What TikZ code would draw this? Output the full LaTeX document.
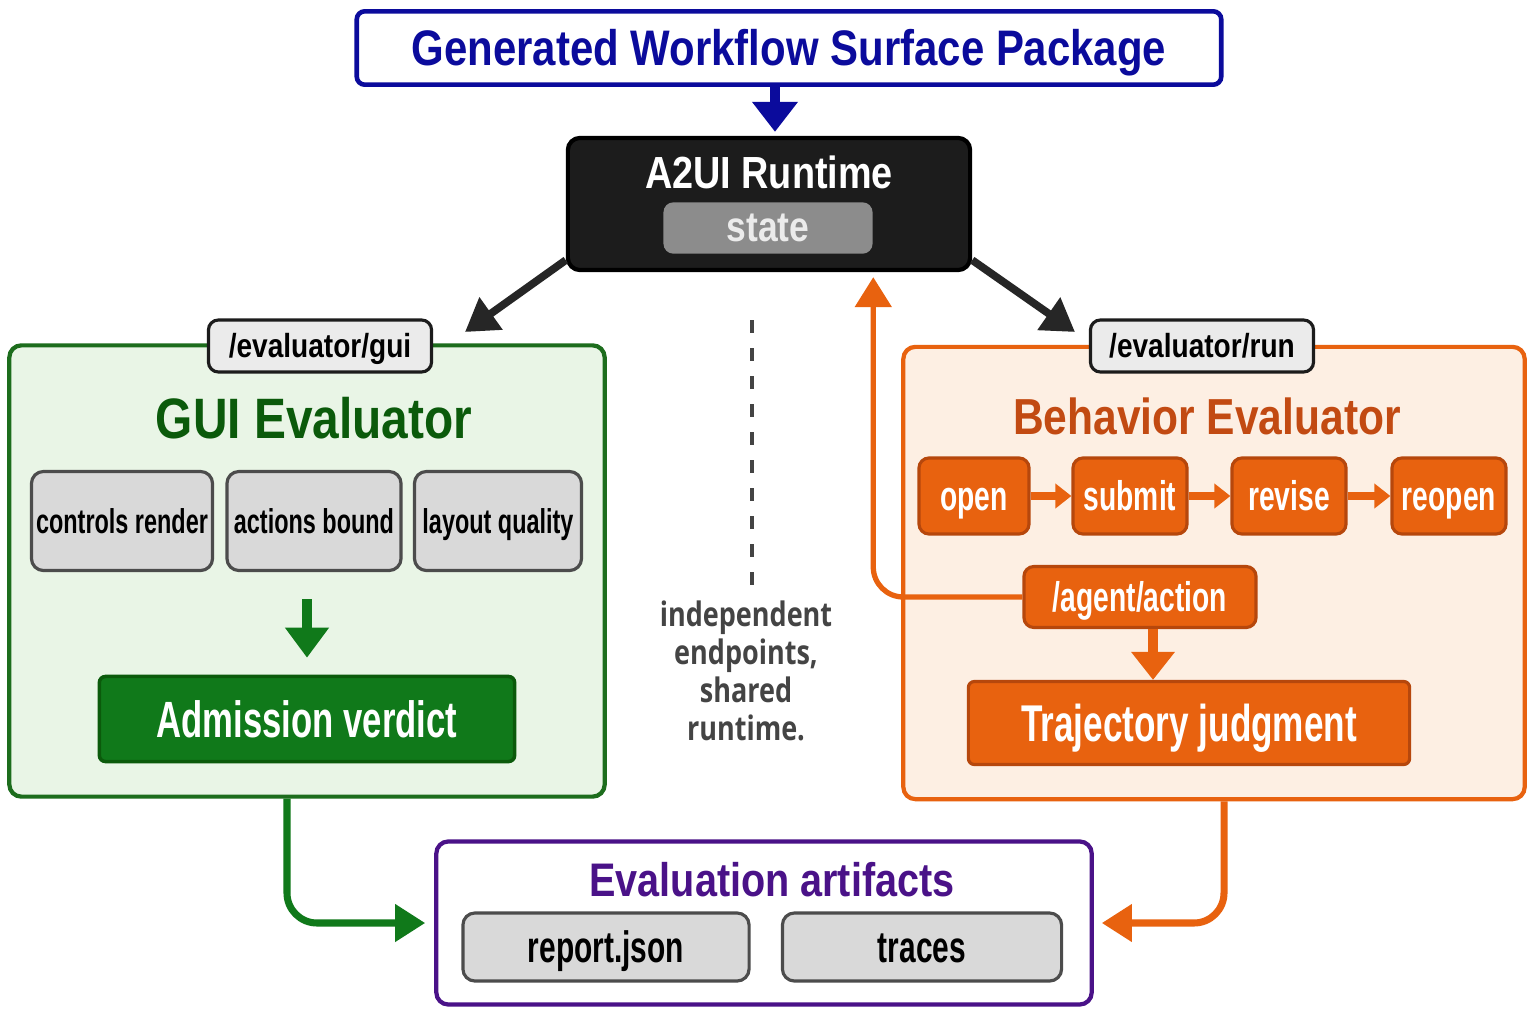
\documentclass[tikz,border=0pt]{standalone}
\usepackage{fontspec}
\setmainfont[FakeStretch=0.84]{Liberation Sans}
\newfontfamily\narrowfont[FakeStretch=0.68]{Liberation Sans}
\newfontfamily\notefont[FakeStretch=0.8]{Open Sans}
\usepackage{xcolor}
\usepackage{tikz}
\usetikzlibrary{arrows.meta}
\definecolor{WFBlue}{HTML}{0B0B9C}
\definecolor{WFBlack}{HTML}{1C1C1C}
\definecolor{WFState}{HTML}{8C8C8C}
\definecolor{WFGreen}{HTML}{1D6D1D}
\definecolor{WFGreenDark}{HTML}{0B5A0B}
\definecolor{WFGreenFill}{HTML}{E9F5E6}
\definecolor{WFVerdict}{HTML}{10791A}
\definecolor{WFOrange}{HTML}{E8620F}
\definecolor{WFOrangeDark}{HTML}{B6470C}
\definecolor{WFOrangeFill}{HTML}{FDEFE3}
\definecolor{WFOrangeTitle}{HTML}{C24A12}
\definecolor{WFPurple}{HTML}{4A1288}
\definecolor{WFChip}{HTML}{D9D9D9}
\definecolor{WFTab}{HTML}{EBEBEB}
\definecolor{WFNote}{HTML}{444444}

\begin{document}
\begin{tikzpicture}[x=0.01cm,y=-0.01cm,
  capbox/.style={text height=#1,text depth=2pt},
  panel/.style={draw,rounded corners=0.12cm,line width=1.2pt},
  tabbox/.style={draw=WFBlack,fill=WFTab,rounded corners=0.1cm,line width=0.9pt,inner sep=1pt,minimum width=2.23cm,minimum height=0.52cm,capbox=8.8pt,font=\bfseries\fontsize{9.5}{11}\selectfont},
  chip/.style={draw=black!70,fill=WFChip,rounded corners=0.12cm,line width=0.9pt,inner sep=1pt,minimum height=0.99cm,capbox=9pt,font=\narrowfont\bfseries\fontsize{9.8}{12}\selectfont},
  stepbox/.style={draw=WFOrangeDark,fill=WFOrange,text=white,rounded corners=0.1cm,line width=0.9pt,inner sep=1pt,minimum width=1.12cm,minimum height=0.76cm,capbox=10.5pt,font=\narrowfont\bfseries\fontsize{11.8}{14}\selectfont},
  fat/.style={line width=3pt,-{Triangle[width=0.44cm,length=0.3cm]}},
  link/.style={line width=1.5pt,rounded corners=0.3cm,-{Triangle[width=0.36cm,length=0.3cm]}},
  small/.style={WFOrange,line width=2.2pt,-{Triangle[width=0.24cm,length=0.16cm]}}]
\path[use as bounding box] (0,0) rectangle (1536,1024);
\fill[white] (0,0) rectangle (1536,1024);
\node[draw=WFBlue,fill=white,rounded corners=0.08cm,line width=1.3pt,minimum width=8.64cm,minimum height=0.73cm,capbox=12.2pt,text=WFBlue,font=\bfseries\fontsize{14.2}{16}\selectfont] (pkg) at (789,48) {Generated Workflow Surface Package};
\node[draw=black,fill=WFBlack,rounded corners=0.12cm,line width=1.2pt,minimum width=4.02cm,minimum height=1.32cm] (rt) at (769,204) {};
\node[text=white,font=\bfseries\fontsize{12.8}{15}\selectfont] (rttitle) at (769,172) {A2UI Runtime};
\node[fill=WFState,rounded corners=0.1cm,minimum width=2.09cm,minimum height=0.51cm,text=white!92!black,font=\bfseries\fontsize{12}{14}\selectfont] (state) at (768,228) {state};
\draw[WFBlue,fat,shorten >=0.04cm] ([xshift=-0.14cm]pkg.south) -- ([xshift=-0.14cm]pkg.south |- rt.north);
\node[panel,draw=WFGreen,fill=WFGreenFill,minimum width=5.95cm,minimum height=4.51cm] (gui) at (307,571) {};
\node[tabbox] (guitab) at (320,346) {/evaluator/gui};
\node[text=WFGreenDark,font=\bfseries\fontsize{16.2}{19}\selectfont] (guititle) at (314,418) {GUI Evaluator};
\node[chip,minimum width=1.81cm] (render) at (122,521) {controls render};
\node[chip,minimum width=1.74cm] (bound) at (314,521) {actions bound};
\node[chip,minimum width=1.67cm] (quality) at (498,521) {layout quality};
\node[draw=WFGreenDark,fill=WFVerdict,rounded corners=0.06cm,line width=1pt,minimum width=4.15cm,minimum height=0.85cm,capbox=12.4pt,text=white,font=\narrowfont\bfseries\fontsize{14.5}{17}\selectfont] (verdict) at (307,719) {Admission verdict};
\draw[WFVerdict,line width=3pt,-{Triangle[width=0.42cm,length=0.3cm]},shorten <=0.27cm,shorten >=0.17cm] (bound.south -| verdict) -- (verdict.north);
\node[panel,draw=WFOrange,fill=WFOrangeFill,minimum width=6.21cm,minimum height=4.52cm] (run) at (1214,573) {};
\node[tabbox] (runtab) at (1202,346) {/evaluator/run};
\node[text=WFOrangeTitle,font=\bfseries\fontsize{14.4}{17}\selectfont] (runtitle) at (1207,416) {Behavior Evaluator};
\node[stepbox,minimum width=1.10cm] (open) at (974,496) {open};
\node[stepbox,minimum width=1.14cm] (submit) at (1130,496) {submit};
\node[stepbox,minimum width=1.14cm] (revise) at (1289,496) {revise};
\node[stepbox,minimum width=1.14cm] (reopen) at (1449,496) {reopen};
\draw[small] (open) -- (submit);
\draw[small] (submit) -- (revise);
\draw[small] (revise) -- (reopen);
\node[stepbox,minimum width=2.32cm,minimum height=0.61cm] (action) at (1140,597) {/agent/action};
\node[stepbox,rounded corners=0.06cm,minimum width=4.41cm,minimum height=0.83cm,capbox=12.5pt,font=\narrowfont\bfseries\fontsize{14.7}{17}\selectfont] (traj) at (1189,723) {Trajectory judgment};
\draw[WFOrange,line width=3pt,-{Triangle[width=0.42cm,length=0.28cm]}] ([xshift=0.13cm]action.south) -- ([xshift=0.13cm]action.south |- traj.north);
\draw[WFOrange,link,shorten >=0.05cm] (action.west) -| (state.east |- rt.south);
\draw[black!85,fat,line width=2.2pt,-{Triangle[width=0.38cm,length=0.32cm]}] ([yshift=0.12cm]rt.south west) -- (465,332) coordinate (guiin);
\draw[black!85,fat,line width=2.2pt,-{Triangle[width=0.38cm,length=0.32cm]}] ([yshift=0.12cm]rt.south east) -- (1075,332) coordinate (runin);
\coordinate (sep) at (752,320);
\node[text=WFNote,align=center,font=\notefont\bfseries\fontsize{9.6}{10.8}\selectfont] (note) at (746,671) {independent\\endpoints,\\shared\\runtime.};
\draw[WFNote,line width=1.3pt,dash pattern=on 0.13cm off 0.15cm] (sep) -- ([yshift=0.02cm]note.north -| sep);
\node[panel,draw=WFPurple,fill=white,minimum width=6.55cm,minimum height=1.63cm] (art) at (764,923) {};
\node[text=WFPurple,font=\bfseries\fontsize{13.4}{16}\selectfont] (arttitle) at (772,880) {Evaluation artifacts};
\node[chip,minimum width=2.86cm,minimum height=0.68cm,capbox=11pt,font=\narrowfont\bfseries\fontsize{12.5}{15}\selectfont] (report) at (606,947) {report.json};
\node[chip,minimum width=2.79cm,minimum height=0.68cm,capbox=11pt,font=\narrowfont\bfseries\fontsize{12.5}{15}\selectfont] (traces) at (922,947) {traces};
\draw[WFVerdict,link,line width=2pt,shorten >=0.09cm] ([xshift=-0.2cm]gui.south) |- (art.west);
\draw[WFOrange,link,line width=2pt,shorten >=0.08cm] ([xshift=0.1cm]run.south) |- (art.east);
\end{tikzpicture}
\end{document}
